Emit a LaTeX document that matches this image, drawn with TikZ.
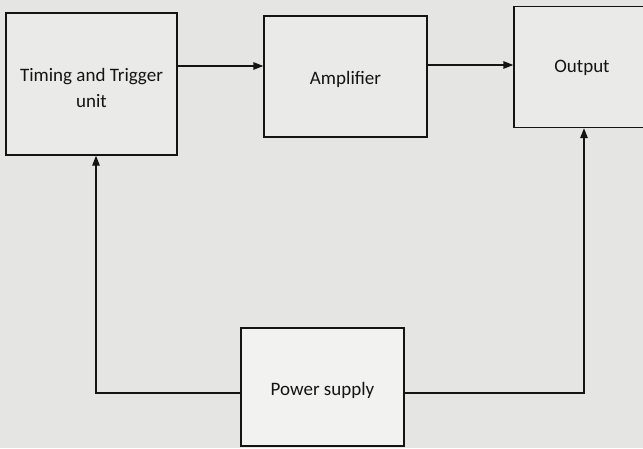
\documentclass[tikz,border=0pt]{standalone}
\usepackage{fontspec}
\setmainfont{Carlito}
\usetikzlibrary{arrows.meta}
\definecolor{bg}{RGB}{229,229,227}
\definecolor{boxbg}{RGB}{234,234,232}
\definecolor{ink}{RGB}{20,20,20}
\tikzset{
  blk/.style={draw=ink, line width=1.4pt, fill=boxbg, inner sep=0pt},
  txt/.style={inner sep=0pt, align=center, font=\fontsize{19}{26}\selectfont, text=ink},
  arr/.style={draw=ink, line width=1.4pt, -{Triangle[length=10pt,width=7.5pt]}}
}
\begin{document}
\begin{tikzpicture}[x=1pt,y=-1pt]
\clip (0,0) rectangle (643,448);
\fill[bg] (0,0) rectangle (643,448);
\node[blk, minimum width=171pt, minimum height=142pt] (timing) at (91.5,84) {};
\node[blk, minimum width=163pt, minimum height=121pt] (amp) at (345.5,76.5) {};
\node[blk, minimum width=136pt, minimum height=121pt] (out) at (582,67) {};
\node[blk, minimum width=163pt, minimum height=118pt, fill=boxbg!60!white] (pw) at (322.5,387) {};
\node[txt] (timingt) at ([yshift=-4pt]timing.center) {Timing and Trigger\\unit};
\node[txt] (ampt) at ([yshift=-3pt]amp.center) {Amplifier};
\node[txt] (outt) at ([yshift=-1pt]out.center) {Output};
\node[txt] (pwt) at ([yshift=-3pt]pw.center) {Power supply};
\coordinate (ya) at (0,66);
\coordinate (yb) at (0,65);
\coordinate (yp) at (0,393);
\coordinate (xl) at (96,0);
\coordinate (xr) at (584,0);
\draw[arr] (timing.east |- ya) -- (amp.west |- ya);
\draw[arr] (amp.east |- yb) -- (out.west |- yb);
\draw[arr] (pw.west |- yp) -| (timing.south -| xl);
\draw[arr] (pw.east |- yp) -| (out.south -| xr);
\end{tikzpicture}
\end{document}
